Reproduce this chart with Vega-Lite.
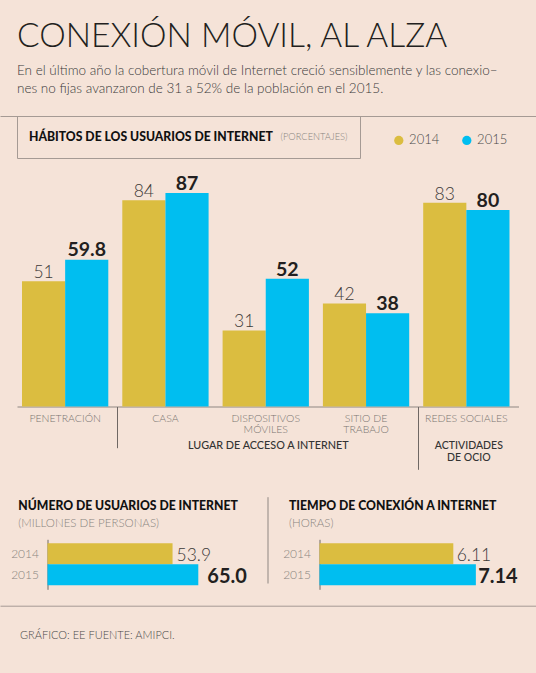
{
  "$schema": "https://vega.github.io/schema/vega-lite/v6.json",
  "width": 536,
  "height": 673,
  "autosize": {"type": "none"},
  "padding": 0,
  "background": "#F5E3D8",
  "config": {"view": {"stroke": null}, "font": "Lato", "axis": {"grid": false}},
  "title": {
    "text": "CONEXIÓN MÓVIL, AL ALZA",
    "subtitle": ["En el último año la cobertura móvil de Internet creció sensiblemente y las conexio–", "nes no fijas avanzaron de 31 a 52% de la población en el 2015."],
    "anchor": "start", "frame": "group", "orient": "top", "offset": -96.9, "dx": 17,
    "font": "Lato", "fontSize": 33.5, "fontWeight": 300, "color": "#231f20",
    "subtitleFont": "Lato", "subtitleFontSize": 13.5, "subtitleFontWeight": 300, "subtitleColor": "#3a3a3a",
    "subtitleLineHeight": 18, "subtitlePadding": 10
  },
  "datasets": {
    "habitos": [
      {"categoria": "PENETRACIÓN", "anio": "2014", "valor": 51},
      {"categoria": "PENETRACIÓN", "anio": "2015", "valor": 59.8},
      {"categoria": "CASA", "anio": "2014", "valor": 84},
      {"categoria": "CASA", "anio": "2015", "valor": 87},
      {"categoria": "DISPOSITIVOS MÓVILES", "anio": "2014", "valor": 31},
      {"categoria": "DISPOSITIVOS MÓVILES", "anio": "2015", "valor": 52},
      {"categoria": "SITIO DE TRABAJO", "anio": "2014", "valor": 42},
      {"categoria": "SITIO DE TRABAJO", "anio": "2015", "valor": 38},
      {"categoria": "REDES SOCIALES", "anio": "2014", "valor": 83},
      {"categoria": "REDES SOCIALES", "anio": "2015", "valor": 80}
    ],
    "usuarios": [
      {"anio": "2014", "valor": 53.9},
      {"anio": "2015", "valor": 65.0}
    ],
    "tiempo": [
      {"anio": "2014", "valor": 6.11},
      {"anio": "2015", "valor": 7.14}
    ],
    "unidad": [{"unidad": "(PORCENTAJES)"}]
  },
  "layer": [
    {
      "data": {"name": "habitos"},
      "encoding": {
        "x": {
          "field": "categoria", "type": "nominal",
          "sort": ["PENETRACIÓN", "CASA", "DISPOSITIVOS MÓVILES", "SITIO DE TRABAJO", "REDES SOCIALES"],
          "scale": {"range": [17, 518.5], "paddingInner": 0.1396, "paddingOuter": 0.0698, "align": 0.357},
          "axis": {
            "orient": "bottom", "offset": -266.5, "domain": true, "domainColor": "#8f8782", "domainWidth": 1,
            "ticks": false, "labelFont": "Lato", "labelFontWeight": 300, "labelFontSize": 10.5, "labelColor": "#7b7672",
            "labelPadding": 6.9, "labelLineHeight": 11, "labelBaseline": "top", "labelAngle": 0,
            "labelExpr": "datum.value == 'DISPOSITIVOS MÓVILES' ? ['DISPOSITIVOS', 'MÓVILES'] : datum.value == 'SITIO DE TRABAJO' ? ['SITIO DE', 'TRABAJO'] : datum.value",
            "title": null, "grid": false
          }
        },
        "xOffset": {"field": "anio", "type": "nominal", "scale": {"paddingInner": 0, "paddingOuter": 0}},
        "y": {"field": "valor", "type": "quantitative", "scale": {"domain": [0, 100], "range": [406.5, 161], "nice": false, "zero": true}, "axis": null}
      },
      "layer": [
        {
          "mark": {"type": "bar"},
          "encoding": {
            "color": {
              "field": "anio", "type": "nominal",
              "scale": {"domain": ["2014", "2015"], "range": ["#DBBD40", "#00BEF0"]},
              "legend": {
                "title": null, "orient": "none", "legendX": 392.3, "legendY": 133.7, "direction": "horizontal",
                "symbolType": "circle", "symbolSize": 85, "symbolStrokeWidth": 0, "padding": 0,
                "labelFont": "Lato", "labelFontSize": 13, "labelFontWeight": 300, "labelColor": "#4a4a4a",
                "labelOffset": 3.8, "columnPadding": 21
              }
            }
          }
        },
        {
          "transform": [{"filter": "datum.anio == '2014'"}],
          "mark": {"type": "text", "baseline": "alphabetic", "dy": -3, "fontSize": 17.5, "fontWeight": 300, "color": "#3d3a38", "font": "Lato"},
          "encoding": {"text": {"field": "valor", "type": "quantitative"}}
        },
        {
          "transform": [{"filter": "datum.anio == '2015'"}],
          "mark": {"type": "text", "baseline": "alphabetic", "dy": -3.3, "fontSize": 19.5, "fontWeight": "bold", "color": "#231f20", "font": "Lato"},
          "encoding": {"text": {"field": "valor", "type": "quantitative"}}
        }
      ]
    },
    {
      "data": {"values": [{}]},
      "mark": {"type": "point", "opacity": 0},
      "encoding": {
        "x": {
          "datum": 0, "type": "quantitative",
          "scale": {"domain": [0, 5], "range": [17, 518.5], "nice": false, "zero": false},
          "axis": {
            "orient": "bottom", "offset": -266.5, "values": [1, 2.5], "domain": false,
            "ticks": true, "tickSize": 41.2, "tickColor": "#6f6864", "tickWidth": 1,
            "tickOpacity": {"condition": {"test": "datum.value == 1", "value": 1}, "value": 0},
            "labelExpr": "datum.value == 2.5 ? 'LUGAR DE ACCESO A INTERNET' : ''",
            "labelPadding": 1, "labelBaseline": "alphabetic", "labelFont": "Lato", "labelFontSize": 10.8, "labelFontWeight": 500,
            "labelColor": "#333333", "labelFlush": false, "labelOverlap": false, "labelBound": false,
            "title": null, "grid": false
          }
        }
      }
    },
    {
      "data": {"values": [{}]},
      "mark": {"type": "point", "opacity": 0},
      "encoding": {
        "x": {
          "datum": 0, "type": "quantitative",
          "scale": {"domain": [0, 5], "range": [17, 518.5], "nice": false, "zero": false},
          "axis": {
            "orient": "bottom", "offset": -266.5, "values": [4, 4.5], "domain": false,
            "ticks": true, "tickSize": 62.8, "tickColor": "#6f6864", "tickWidth": 1,
            "tickOpacity": {"condition": {"test": "datum.value == 4", "value": 1}, "value": 0},
            "labelExpr": "datum.value == 4.5 ? ['ACTIVIDADES', 'DE OCIO'] : ''",
            "labelPadding": -20.6, "labelBaseline": "alphabetic", "labelLineHeight": 11.5, "labelFont": "Lato", "labelFontSize": 10.5, "labelFontWeight": 500,
            "labelColor": "#333333", "labelFlush": false, "labelOverlap": false, "labelBound": false,
            "title": null, "grid": false
          }
        }
      }
    },
    {
      "data": {"name": "unidad"},
      "mark": {"type": "point", "opacity": 0},
      "encoding": {
        "shape": {
          "field": "unidad", "type": "nominal",
          "legend": {
            "title": "HÁBITOS DE LOS USUARIOS DE INTERNET", "orient": "none", "legendX": 17, "legendY": 116,
            "titleOrient": "left", "titleAnchor": "middle", "titleBaseline": "middle", "titlePadding": 0, "titleLimit": 1000,
            "titleFont": "Lato", "titleFontWeight": 900, "titleFontSize": 12.2, "titleColor": "#111111",
            "strokeColor": "#a59a94", "padding": 12, "symbolSize": 324, "symbolOpacity": 0, "symbolStrokeWidth": 0,
            "labelFont": "Lato", "labelFontSize": 9.3, "labelFontWeight": 300, "labelColor": "#8a8580", "labelOffset": -10.4, "labelLimit": 1000
          }
        }
      }
    },
    {
      "data": {"name": "usuarios"},
      "encoding": {
        "y": {
          "field": "anio", "type": "nominal",
          "scale": {"domain": ["2014", "2015"], "range": [539.3, 589.3], "paddingInner": 0, "paddingOuter": 0.19},
          "axis": {
            "orient": "left", "offset": -47.5, "domain": true, "domainColor": "#6f6864", "ticks": false,
            "labelPadding": 9, "labelFont": "Lato", "labelFontWeight": 300, "labelFontSize": 12, "labelColor": "#8a8580",
            "title": "NÚMERO DE USUARIOS DE INTERNET", "titleAngle": 0, "titleAlign": "left", "titleBaseline": "alphabetic",
            "titleX": -29.7, "titleY": 509.3, "titleFont": "Lato", "titleFontWeight": 900, "titleFontSize": 12.2, "titleColor": "#111111", "titleLimit": 1000,
            "grid": false
          }
        },
        "x": {
          "field": "valor", "type": "quantitative",
          "scale": {"domain": [0, 100], "range": [47.5, 279.5], "nice": false, "zero": true},
          "axis": {
            "orient": "top", "offset": 0, "domain": false, "ticks": false, "labels": false, "grid": false,
            "title": "(MILLONES DE PERSONAS)", "titleX": 17.8, "titleY": 526.7, "titleAlign": "left", "titleBaseline": "alphabetic",
            "titleFont": "Lato", "titleFontWeight": 300, "titleFontSize": 11.5, "titleColor": "#8a8580"
          }
        }
      },
      "layer": [
        {"mark": {"type": "bar"}, "encoding": {"color": {"field": "anio", "type": "nominal", "scale": {"domain": ["2014", "2015"], "range": ["#DBBD40", "#00BEF0"]}}}},
        {
          "transform": [{"filter": "datum.anio == '2014'"}],
          "mark": {"type": "text", "align": "left", "baseline": "alphabetic", "dx": 4, "dy": 7.6, "fontSize": 17.5, "fontWeight": 300, "color": "#3d3a38", "font": "Lato"},
          "encoding": {"text": {"field": "valor", "type": "quantitative", "format": ".1f"}}
        },
        {
          "transform": [{"filter": "datum.anio == '2015'"}],
          "mark": {"type": "text", "align": "left", "baseline": "alphabetic", "dx": 9, "dy": 8, "fontSize": 20, "fontWeight": "bold", "color": "#231f20", "font": "Lato"},
          "encoding": {"text": {"field": "valor", "type": "quantitative", "format": ".1f"}}
        }
      ]
    },
    {
      "data": {"name": "tiempo"},
      "encoding": {
        "y": {
          "field": "anio", "type": "nominal",
          "scale": {"domain": ["2014", "2015"], "range": [539.3, 589.3], "paddingInner": 0, "paddingOuter": 0.19},
          "axis": {
            "orient": "left", "offset": -319.5, "domain": true, "domainColor": "#6f6864", "ticks": false,
            "labelPadding": 9, "labelFont": "Lato", "labelFontWeight": 300, "labelFontSize": 12, "labelColor": "#8a8580",
            "title": "TIEMPO DE CONEXIÓN A INTERNET", "titleAngle": 0, "titleAlign": "left", "titleBaseline": "alphabetic",
            "titleX": -31, "titleY": 509.3, "titleFont": "Lato", "titleFontWeight": 900, "titleFontSize": 12.2, "titleColor": "#111111", "titleLimit": 1000,
            "grid": false
          }
        },
        "x": {
          "field": "valor", "type": "quantitative",
          "scale": {"domain": [0, 10], "range": [319.5, 538.5], "nice": false, "zero": true},
          "axis": {
            "orient": "top", "offset": 0, "domain": false, "ticks": false, "labels": false, "grid": false,
            "title": "(HORAS)", "titleX": 288.5, "titleY": 526.7, "titleAlign": "left", "titleBaseline": "alphabetic",
            "titleFont": "Lato", "titleFontWeight": 300, "titleFontSize": 11.5, "titleColor": "#8a8580"
          }
        }
      },
      "layer": [
        {"mark": {"type": "bar"}, "encoding": {"color": {"field": "anio", "type": "nominal", "scale": {"domain": ["2014", "2015"], "range": ["#DBBD40", "#00BEF0"]}}}},
        {
          "transform": [{"filter": "datum.anio == '2014'"}],
          "mark": {"type": "text", "align": "left", "baseline": "alphabetic", "dx": 3.4, "dy": 7.6, "fontSize": 17.5, "fontWeight": 300, "color": "#3d3a38", "font": "Lato"},
          "encoding": {"text": {"field": "valor", "type": "quantitative", "format": ".2f"}}
        },
        {
          "transform": [{"filter": "datum.anio == '2015'"}],
          "mark": {"type": "text", "align": "left", "baseline": "alphabetic", "dx": 2.3, "dy": 8, "fontSize": 20, "fontWeight": "bold", "color": "#231f20", "font": "Lato"},
          "encoding": {"text": {"field": "valor", "type": "quantitative", "format": ".2f"}}
        }
      ]
    },
    {
      "data": {"values": [{}]},
      "mark": {"type": "point", "opacity": 0},
      "encoding": {
        "y": {
          "datum": 0, "type": "quantitative",
          "scale": {"domain": [0, 1], "range": [583, 496.7], "nice": false, "zero": false},
          "axis": {"orient": "left", "offset": -267.5, "domain": true, "domainColor": "#8f8782", "ticks": false, "labels": false, "title": null, "grid": false}
        }
      }
    },
    {
      "data": {"values": [{}]},
      "mark": {"type": "point", "opacity": 0},
      "encoding": {
        "x": {
          "datum": 0, "type": "quantitative",
          "scale": {"domain": [0, 1], "range": [0, 536], "nice": false, "zero": false},
          "axis": {"orient": "top", "offset": -116, "domain": true, "domainColor": "#a59a94", "ticks": false, "labels": false, "title": null, "grid": false}
        }
      }
    },
    {
      "data": {"values": [{}]},
      "mark": {"type": "point", "opacity": 0},
      "encoding": {
        "x": {
          "datum": 0, "type": "quantitative",
          "scale": {"domain": [0, 1], "range": [0, 536], "nice": false, "zero": false},
          "axis": {
            "orient": "bottom", "offset": -67.3, "domain": true, "domainColor": "#a59a94", "ticks": false, "labels": false, "grid": false,
            "title": "GRÁFICO: EE FUENTE: AMIPCI.", "titleX": 19.5, "titleY": 32.6, "titleAlign": "left", "titleBaseline": "alphabetic",
            "titleFont": "Lato", "titleFontWeight": 300, "titleFontSize": 11, "titleColor": "#4a4a4a"
          }
        }
      }
    }
  ],
  "resolve": {
    "scale": {"x": "independent", "y": "independent"},
    "axis": {"x": "independent", "y": "independent"}
  }
}
